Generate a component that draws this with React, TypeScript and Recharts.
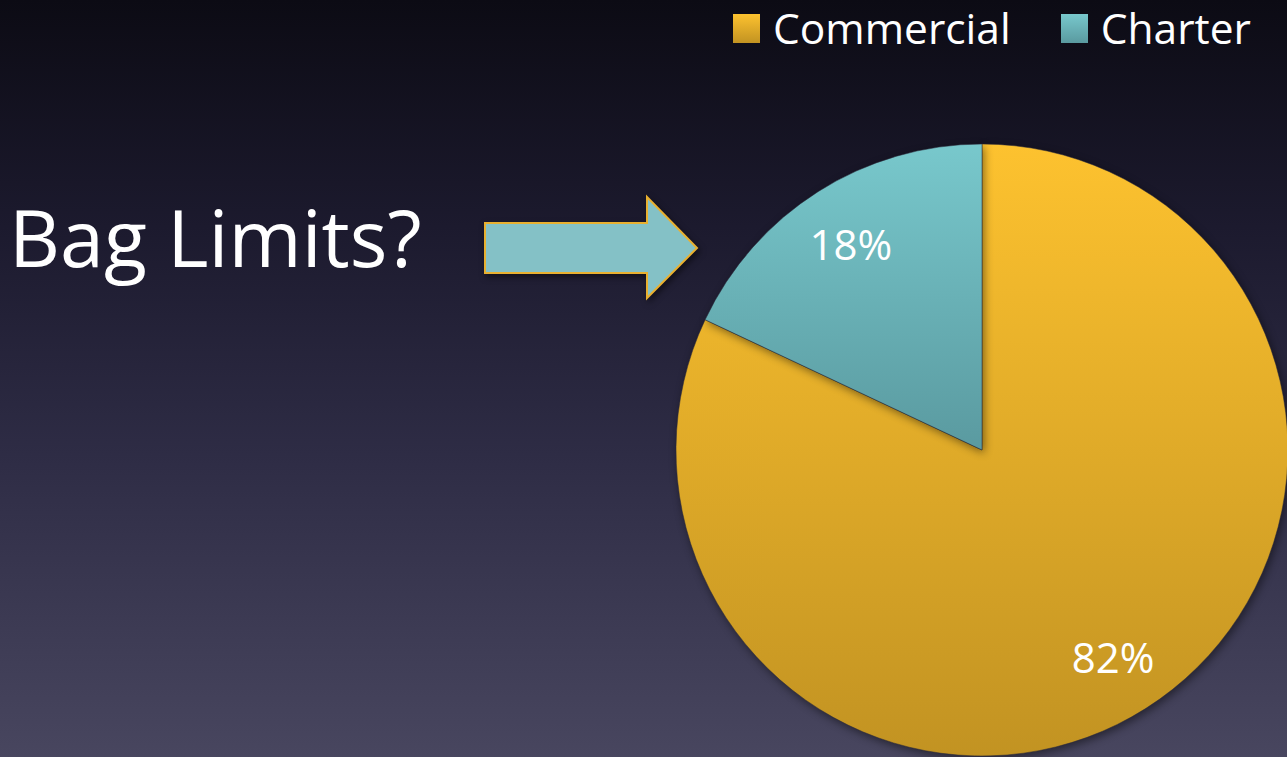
import React from "react";
import { PieChart, Pie, Cell } from "recharts";

const categories = ["Commercial", "Charter"];
const shares = [82, 18];
const labels = ["82%", "18%"];

const GRADS = [
  { id: "gradCommercial", top: "#fdc22f", bottom: "#c29322" },
  { id: "gradCharter", top: "#78c8cc", bottom: "#5a9aa0" },
];

const FONT = "'Open Sans', 'Noto Sans', sans-serif";

const data = categories.map((name, i) => ({ name, value: shares[i], label: labels[i] }));

const RAD = Math.PI / 180;

function renderLabel(props: any) {
  const { cx, cy, midAngle, outerRadius, index } = props;
  const r = outerRadius * 0.8;
  const x = cx + r * Math.cos(-midAngle * RAD);
  const y = cy + r * Math.sin(-midAngle * RAD);
  return (
    <text
      x={x}
      y={y}
      fill="#ffffff"
      textAnchor="middle"
      dominantBaseline="central"
      fontSize={42}
      fontFamily={FONT}
    >
      {data[index].label}
    </text>
  );
}

function ChartLegend() {
  return (
    <div
      style={{
        position: "absolute",
        top: 4,
        left: 733,
        display: "flex",
        alignItems: "center",
        fontFamily: FONT,
      }}
    >
      {categories.map((name, i) => (
        <div key={name} style={{ display: "flex", alignItems: "center", marginLeft: i === 0 ? 0 : 50 }}>
          <span
            style={{
              width: 27,
              height: 29,
              display: "inline-block",
              background: `linear-gradient(${GRADS[i].top}, ${GRADS[i].bottom})`,
              marginRight: 13,
            }}
          />
          <span style={{ color: "#ffffff", fontSize: 42.5, lineHeight: "48px" }}>{name}</span>
        </div>
      ))}
    </div>
  );
}

export default function App() {
  return (
    <div
      style={{
        position: "absolute",
        left: 0,
        top: 0,
        width: 1287,
        height: 757,
        overflow: "hidden",
        background: "linear-gradient(#0c0b14 0%, #1c1a2e 30%, #2e2c45 60%, #48465f 100%)",
      }}
    >
      <div
        style={{
          position: "absolute",
          left: 9,
          top: 187,
          color: "#ffffff",
          fontFamily: FONT,
          fontSize: 79,
          lineHeight: "100px",
          whiteSpace: "nowrap",
        }}
      >
        Bag Limits?
      </div>
      <svg
        width={1287}
        height={757}
        style={{ position: "absolute", left: 0, top: 0, filter: "drop-shadow(2px 3px 3px rgba(0,0,0,0.5))" }}
      >
        <polygon
          points="485,223 647,223 647,197 697,248 647,298 647,273 485,273"
          fill="#84c1c6"
          stroke="#e8b030"
          strokeWidth={2}
        />
      </svg>
      <div style={{ position: "absolute", left: 0, top: 0 }}>
        <PieChart width={1287} height={757} margin={{ top: 0, right: 0, bottom: 0, left: 0 }}>
          <defs>
            {GRADS.map((g) => (
              <linearGradient key={g.id} id={g.id} x1="0" y1="0" x2="0" y2="1">
                <stop offset="0%" stopColor={g.top} />
                <stop offset="100%" stopColor={g.bottom} />
              </linearGradient>
            ))}
          </defs>
          <Pie
            data={data}
            dataKey="value"
            nameKey="name"
            cx={982}
            cy={450}
            outerRadius={306}
            startAngle={90}
            endAngle={-270}
            stroke="#2a2838"
            strokeWidth={0.5}
            label={renderLabel}
            labelLine={false}
            isAnimationActive={false}
            style={{ filter: "drop-shadow(2px 3px 4px rgba(0,0,0,0.45))" }}
          >
            {data.map((d, i) => (
              <Cell key={d.name} fill={`url(#${GRADS[i].id})`} />
            ))}
          </Pie>
        </PieChart>
      </div>
      <ChartLegend />
    </div>
  );
}
